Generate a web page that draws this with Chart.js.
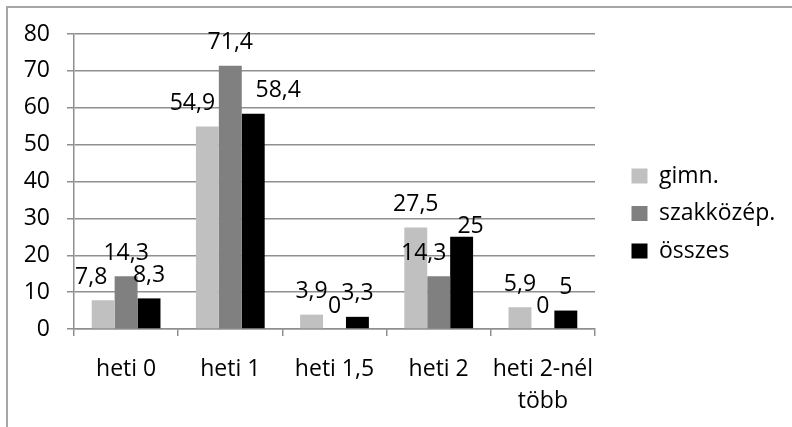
<!DOCTYPE html>
<html>
<head>
<meta charset="utf-8">
<script src="https://cdn.jsdelivr.net/npm/chart.js@4.4.1/dist/chart.umd.min.js"></script>
<style>
  html, body { margin: 0; padding: 0; background: #fff; }
  #frame {
    position: absolute; left: 6px; top: 6px; width: 800px; height: 430px;
    border-top: 2px solid #a6a6a6; border-left: 2px solid #a6a6a6;
  }
  #chart { position: absolute; left: 0; top: 0; }
</style>
</head>
<body>
<div id="frame"></div>
<canvas id="chart" width="792" height="427"></canvas>
<script>
// Heti gyakoriság (%)
const categories = ['heti 0', 'heti 1', 'heti 1,5', 'heti 2', ['heti 2-nél', 'több']];
const gimn = [7.8, 54.9, 3.9, 27.5, 5.9];
const szakkozep = [14.3, 71.4, 0, 14.3, 0];
const osszes = [8.3, 58.4, 3.3, 25, 5];
const yTicks = [0, 10, 20, 30, 40, 50, 60, 70, 80];

const FONT = { family: 'Open Sans', size: 23 };
const GRID = '#8f8f8f';

// értékcímkék az oszlopok fölé
const valueLabels = {
  id: 'valueLabels',
  afterDatasetsDraw(chart, args, opts) {
    const ctx = chart.ctx;
    ctx.save();
    ctx.font = FONT.size + 'px "' + FONT.family + '"';
    ctx.fillStyle = '#000';
    ctx.textAlign = 'center';
    ctx.textBaseline = 'middle';
    chart.data.datasets.forEach((ds, i) => {
      chart.getDatasetMeta(i).data.forEach((bar, j) => {
        const n = opts.nudge[i + '-' + j] || [0, 0];
        const txt = String(ds.data[j]).replace('.', ',');
        ctx.fillText(txt, bar.x + n[0], bar.y - opts.offset + n[1]);
      });
    });
    ctx.restore();
  }
};

new Chart(document.getElementById('chart'), {
  type: 'bar',
  data: {
    labels: categories,
    datasets: [
      { label: 'gimn.', data: gimn, backgroundColor: '#c0c0c0' },
      { label: 'szakközép.', data: szakkozep, backgroundColor: '#808080' },
      { label: 'összes', data: osszes, backgroundColor: '#000000' }
    ]
  },
  options: {
    responsive: false,
    animation: false,
    devicePixelRatio: 1,
    layout: { padding: { top: 8, bottom: 8, left: 0, right: 0 } },
    datasets: { bar: { categoryPercentage: 0.66, barPercentage: 1 } },
    scales: {
      x: {
        offset: true,
        grid: { display: true, drawOnChartArea: false, color: GRID, lineWidth: 1.5, tickLength: 7 },
        border: { color: GRID, width: 1.5 },
        ticks: { color: '#000', font: { ...FONT, lineHeight: 1.39 }, padding: 17, maxRotation: 0 },
        // a rajzterület jobb széle 595 px-nél
        afterFit(s) { s.height = 90; s.paddingRight = 197; }
      },
      y: {
        min: 0,
        max: 80,
        afterBuildTicks(s) { s.ticks = yTicks.map(v => ({ value: v })); },
        grid: { color: GRID, lineWidth: 1.5, tickLength: 7 },
        border: { color: GRID, width: 1.5 },
        ticks: { color: '#000', font: FONT, padding: 17 },
        afterFit(s) { s.width = 74; s.paddingTop = 34; }
      },
      // láthatatlan sáv a rajzterület és a jelmagyarázat között
      gap: {
        type: 'linear',
        position: 'right',
        display: false,
        afterFit(s) { s.width = 22; }
      }
    },
    plugins: {
      legend: {
        position: 'right',
        labels: { color: '#000', font: FONT, boxWidth: 16, boxHeight: 15, padding: 14.5 }
      },
      tooltip: { enabled: false },
      valueLabels: {
        offset: 23,
        nudge: { '0-0': [-12, 0], '0-1': [-15, 0], '2-1': [25, 0], '1-3': [-15, 0], '2-3': [9, 13] }
      }
    }
  },
  plugins: [valueLabels]
});
</script>
</body>
</html>
